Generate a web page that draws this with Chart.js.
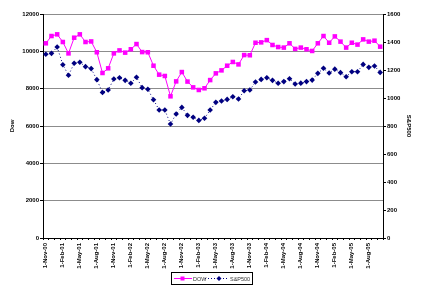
<!DOCTYPE html>
<html>
<head>
<meta charset="utf-8">
<script src="https://cdn.jsdelivr.net/npm/chart.js@4.4.1/dist/chart.umd.min.js"></script>
<style>
  html, body { margin: 0; padding: 0; background: #fff; }
  canvas { display: block; }
</style>
</head>
<body>
<canvas id="chart" width="423" height="289"></canvas>
<script>
// monthly points, Nov-00 .. Oct-05
const months = [
    '1-Nov-00', '1-Dec-00', '1-Jan-01', '1-Feb-01', '1-Mar-01', '1-Apr-01', '1-May-01', '1-Jun-01', '1-Jul-01', '1-Aug-01',
    '1-Sep-01', '1-Oct-01', '1-Nov-01', '1-Dec-01', '1-Jan-02', '1-Feb-02', '1-Mar-02', '1-Apr-02', '1-May-02', '1-Jun-02',
    '1-Jul-02', '1-Aug-02', '1-Sep-02', '1-Oct-02', '1-Nov-02', '1-Dec-02', '1-Jan-03', '1-Feb-03', '1-Mar-03', '1-Apr-03',
    '1-May-03', '1-Jun-03', '1-Jul-03', '1-Aug-03', '1-Sep-03', '1-Oct-03', '1-Nov-03', '1-Dec-03', '1-Jan-04', '1-Feb-04',
    '1-Mar-04', '1-Apr-04', '1-May-04', '1-Jun-04', '1-Jul-04', '1-Aug-04', '1-Sep-04', '1-Oct-04', '1-Nov-04', '1-Dec-04',
    '1-Jan-05', '1-Feb-05', '1-Mar-05', '1-Apr-05', '1-May-05', '1-Jun-05', '1-Jul-05', '1-Aug-05', '1-Sep-05', '1-Oct-05'
];

const dow = [
    10430, 10820, 10910, 10500, 9890, 10730, 10910, 10500, 10530, 9950,
    8840, 9090, 9890, 10050, 9930, 10110, 10390, 9960, 9950, 9230,
    8750, 8680, 7590, 8390, 8890, 8380, 8070, 7930, 8020, 8460,
    8820, 8980, 9230, 9430, 9300, 9800, 9790, 10460, 10480, 10600,
    10340, 10230, 10200, 10430, 10130, 10200, 10110, 10020, 10430, 10820,
    10460, 10800, 10520, 10200, 10460, 10360, 10640, 10520, 10570, 10250
];

const sp500 = [
    1312, 1319, 1364, 1238, 1162, 1248, 1255, 1224, 1210, 1131,
    1040, 1057, 1136, 1145, 1126, 1105, 1148, 1074, 1062, 988,
    914, 914, 814, 886, 933, 876, 862, 840, 855, 914,
    969, 979, 990, 1009, 993, 1052, 1057, 1114, 1133, 1145,
    1126, 1105, 1117, 1138, 1100, 1106, 1117, 1128, 1176, 1212,
    1179, 1206, 1181, 1152, 1188, 1188, 1240, 1219, 1229, 1183
];

const dowTicks = { min: 0, max: 12000, step: 2000 };
const spTicks = { min: 0, max: 1600, step: 200 };

const PINK = '#ff00ff';
const NAVY = '#000080';
const tickFont = { family: 'Liberation Sans, Arial', size: 6, weight: 'bold' };

// legend box like the excel one (line sample + marker + text)
const excelLegend = {
    id: 'excelLegend',
    afterDraw(chart) {
        const ctx = chart.ctx;
        const y = 278.5;
        ctx.save();
        ctx.strokeStyle = '#000';
        ctx.lineWidth = 1;
        ctx.strokeRect(171.5, 272.5, 81, 12);

        // DOW
        ctx.strokeStyle = PINK;
        ctx.beginPath();
        ctx.moveTo(174, y);
        ctx.lineTo(192, y);
        ctx.stroke();
        ctx.fillStyle = PINK;
        ctx.fillRect(180.5, y - 2, 4, 4);

        // S&P500
        ctx.strokeStyle = NAVY;
        ctx.setLineDash([1, 2]);
        ctx.beginPath();
        ctx.moveTo(205, y);
        ctx.lineTo(228, y);
        ctx.stroke();
        ctx.setLineDash([]);
        ctx.fillStyle = NAVY;
        ctx.beginPath();
        ctx.moveTo(219, y - 2.5);
        ctx.lineTo(221.5, y);
        ctx.lineTo(219, y + 2.5);
        ctx.lineTo(216.5, y);
        ctx.closePath();
        ctx.fill();

        ctx.fillStyle = '#333';
        ctx.font = '5.5px "Liberation Sans", Arial';
        ctx.textBaseline = 'middle';
        ctx.fillText('DOW', 193, y + 0.5);
        ctx.fillText('S&P500', 230, y + 0.5);
        ctx.restore();
    }
};

new Chart(document.getElementById('chart'), {
    type: 'line',
    data: {
        labels: months,
        datasets: [
            {
                label: 'DOW',
                data: dow,
                yAxisID: 'y',
                borderColor: PINK,
                backgroundColor: PINK,
                borderWidth: 1,
                pointStyle: 'rect',
                pointRadius: 3.2,
                pointBorderWidth: 0,
                tension: 0
            },
            {
                label: 'S&P500',
                data: sp500,
                yAxisID: 'y1',
                borderColor: NAVY,
                backgroundColor: NAVY,
                borderWidth: 1,
                borderDash: [1, 2.5],
                pointStyle: 'rectRot',
                pointRadius: 2.8,
                pointBorderWidth: 0,
                tension: 0
            }
        ]
    },
    options: {
        responsive: false,
        animation: false,
        layout: { padding: { top: 14, left: 0, right: 0, bottom: 0 } },
        plugins: {
            legend: { display: false },
            tooltip: { enabled: false }
        },
        scales: {
            x: {
                offset: true,
                grid: { offset: true, drawOnChartArea: false, tickLength: 2, tickColor: '#000', lineWidth: 1 },
                border: { color: '#000', width: 1 },
                ticks: {
                    autoSkip: false,
                    maxRotation: 90,
                    minRotation: 90,
                    padding: 3,
                    color: '#000',
                    font: tickFont,
                    callback: (v, i) => (i % 3 === 0 ? months[i] : '')
                },
                afterFit: s => { s.height = 51; }
            },
            y: {
                position: 'left',
                min: dowTicks.min,
                max: dowTicks.max,
                ticks: { stepSize: dowTicks.step, padding: 1, color: '#000', font: tickFont, callback: v => v },
                grid: { color: '#8c8c8c', tickColor: '#000', tickLength: 3 },
                border: { color: '#000', width: 1 },
                title: { display: true, text: 'Dow', color: '#000', font: tickFont, padding: { top: 9, bottom: 0 } },
                afterFit: s => { s.width = 43; }
            },
            y1: {
                position: 'right',
                min: spTicks.min,
                max: spTicks.max,
                ticks: { stepSize: spTicks.step, padding: 1, color: '#000', font: tickFont, callback: v => v },
                grid: { drawOnChartArea: false, tickColor: '#000', tickLength: 3 },
                border: { color: '#000', width: 1 },
                title: { display: true, text: 'S&P500', color: '#000', font: tickFont, padding: { top: 11, bottom: 0 } },
                afterFit: s => { s.width = 40; }
            }
        }
    },
    plugins: [excelLegend]
});
</script>
</body>
</html>
